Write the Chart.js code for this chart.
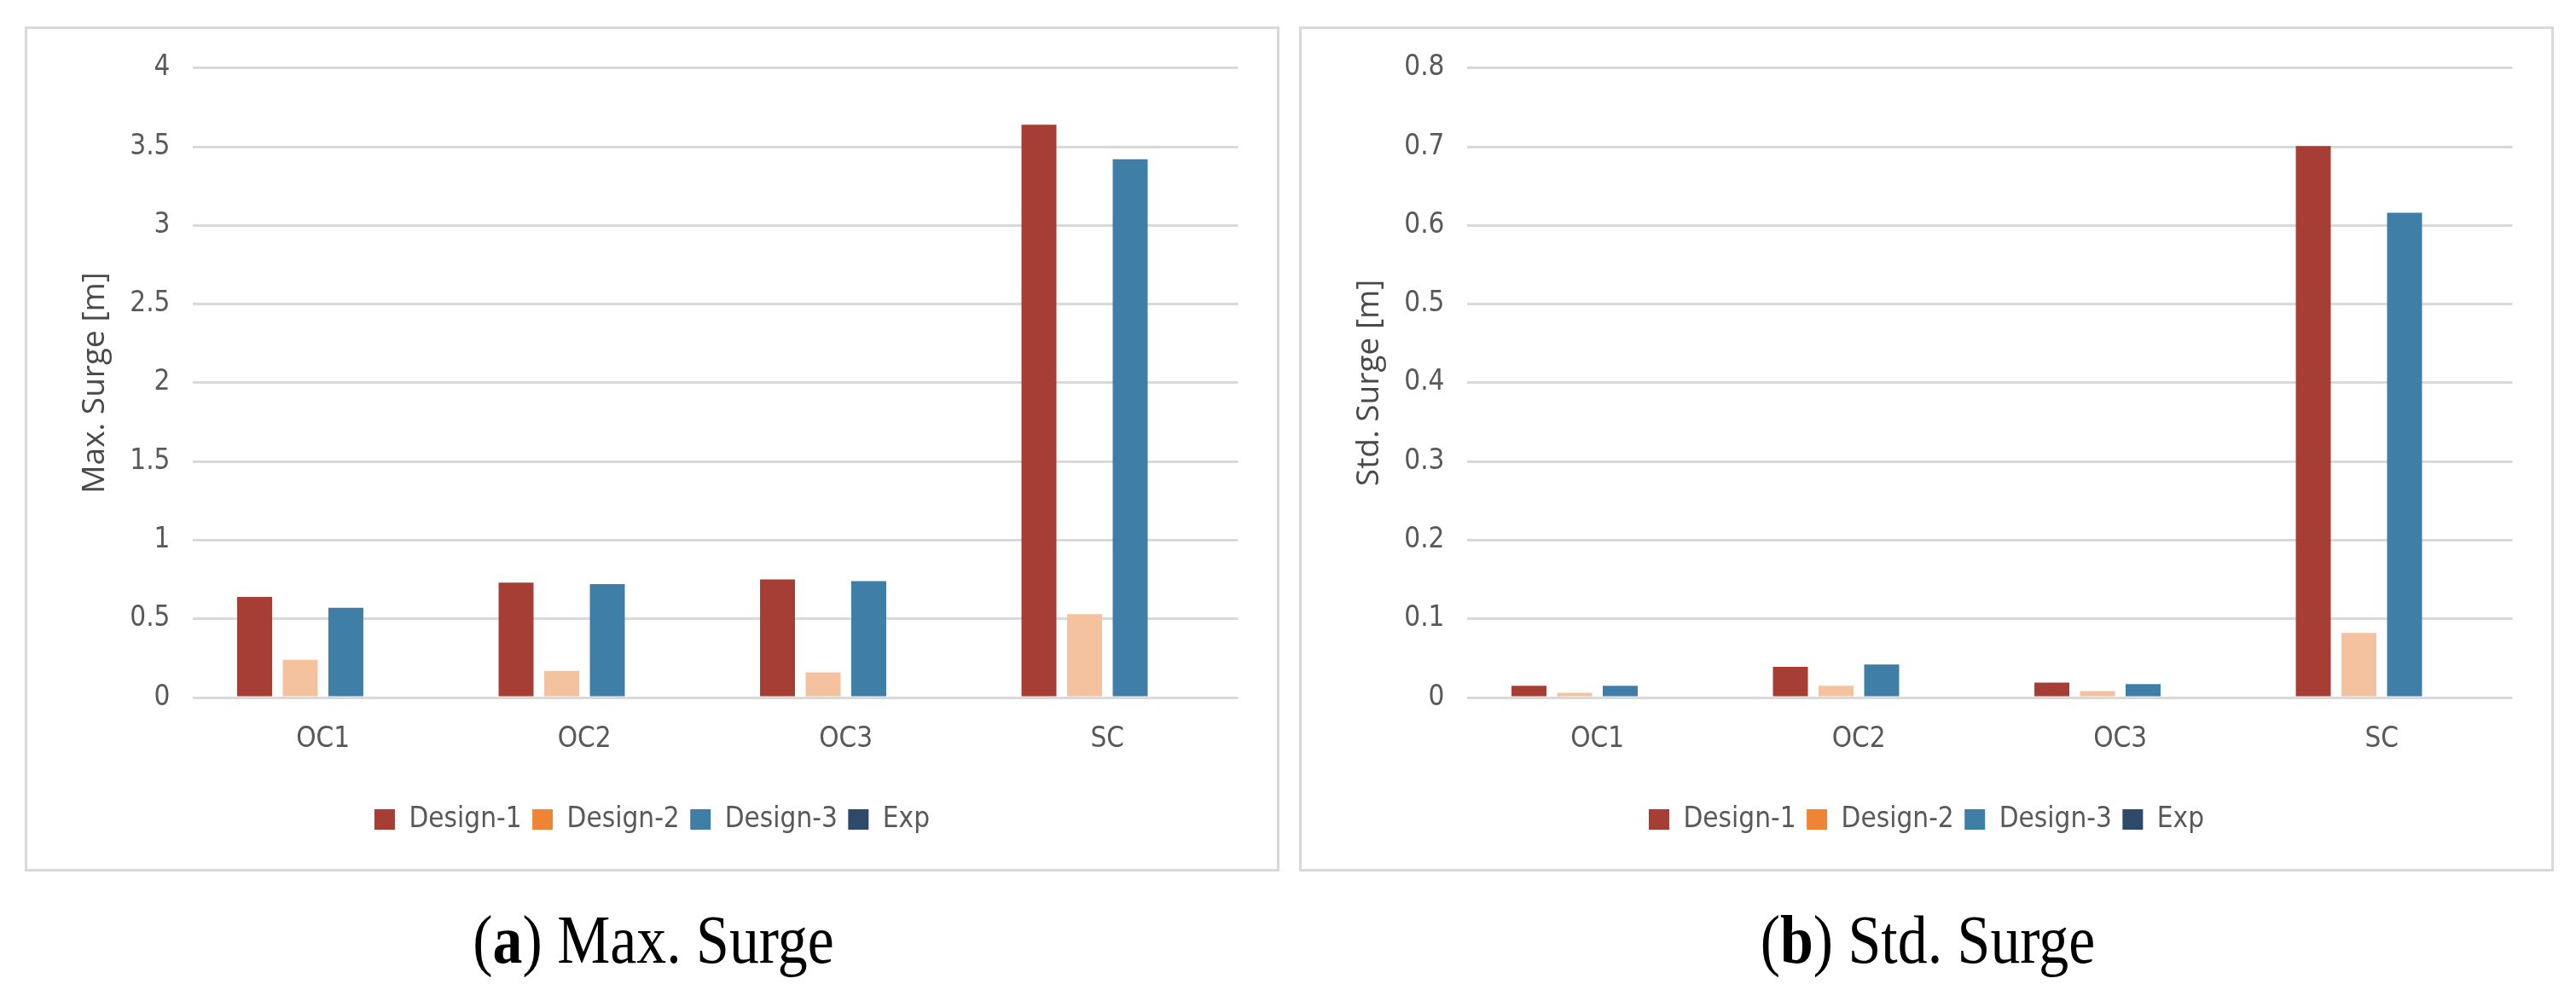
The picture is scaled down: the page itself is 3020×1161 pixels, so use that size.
<!DOCTYPE html>
<html>
<head>
<meta charset="utf-8">
<script src="https://cdn.jsdelivr.net/npm/chart.js@4"></script>
<style>
  html, body { margin: 0; padding: 0; background: #ffffff; }
  body { width: 3020px; height: 1161px; position: relative; overflow: hidden; }
  .frame { position: absolute; top: 31px; width: 1471px; height: 991px; border: 3px solid #d9d9d9; box-sizing: border-box; background: #fff; }
  .frame canvas { position: absolute; left: 0; top: 0; }
  .cap { position: absolute; top: 1062px; font-family: "Liberation Serif", "Times New Roman", serif; font-size: 80px; line-height: 80px; color: #000; white-space: nowrap; transform: translateX(-50%) scaleX(0.873); transform-origin: center; }
</style>
</head>
<body>
<div class="frame" style="left:29px"><canvas id="c1" width="1465" height="985"></canvas></div>
<div class="frame" style="left:1523px"><canvas id="c2" width="1465" height="985"></canvas></div>
<div class="cap" style="left:766px">(<b>a</b>) Max. Surge</div>
<div class="cap" style="left:2260px">(<b>b</b>) Std. Surge</div>
<script>
// ---- data ----
const categories = ['OC1', 'OC2', 'OC3', 'SC'];
const seriesNames = ['Design-1', 'Design-2', 'Design-3', 'Exp'];

const maxDesign1 = [0.64, 0.73, 0.75, 3.64];
const maxDesign2 = [0.24, 0.17, 0.16, 0.53];
const maxDesign3 = [0.57, 0.72, 0.74, 3.42];
const maxExp = [null, null, null, null];

const stdDesign1 = [0.015, 0.039, 0.019, 0.701];
const stdDesign2 = [0.006, 0.015, 0.008, 0.082];
const stdDesign3 = [0.015, 0.042, 0.017, 0.616];
const stdExp = [null, null, null, null];

const maxTickLabels = ['0', '0.5', '1', '1.5', '2', '2.5', '3', '3.5', '4'];
const stdTickLabels = ['0', '0.1', '0.2', '0.3', '0.4', '0.5', '0.6', '0.7', '0.8'];

// ---- styles ----
const barColors = ['#A63E36', '#F4C29E', '#3F7FA7', '#2E4A6B'];
const legendColors = ['#A63E36', '#EE8434', '#3F7FA7', '#2E4A6B'];
const textColor = '#595959';
const gridColor = '#d9d9d9';
const narrow = '"Liberation Sans Narrow", "DejaVu Sans Condensed", "Liberation Sans", sans-serif';

Chart.defaults.font.family = narrow;
Chart.defaults.color = textColor;

function makeChart(id, seriesArrays, tickLabels, yMax, step, title) {
  const datasets = seriesArrays.map((arr, i) => ({
    label: seriesNames[i],
    data: arr,
    backgroundColor: barColors[i],
    borderWidth: 0,
    categoryPercentage: 0.698,
    barPercentage: 0.766
  }));
  return new Chart(document.getElementById(id), {
    type: 'bar',
    data: { labels: categories, datasets },
    options: {
      responsive: false,
      animation: false,
      devicePixelRatio: 1,
      layout: { padding: { top: 44, bottom: 31.5, left: 0, right: 0 } },
      plugins: {
        tooltip: { enabled: false },
        legend: {
          position: 'bottom',
          labels: {
            font: { size: 33, family: narrow },
            color: textColor,
            boxWidth: 24,
            boxHeight: 24,
            padding: 12.5,
            generateLabels(chart) {
              const items = Chart.defaults.plugins.legend.labels.generateLabels(chart);
              items.forEach((it, i) => { it.fillStyle = legendColors[i]; it.strokeStyle = legendColors[i]; it.lineWidth = 0; it.hidden = false; });
              return items;
            }
          }
        }
      },
      scales: {
        x: {
          grid: { display: false, drawTicks: false },
          border: { display: false },
          ticks: { font: { size: 33, family: narrow }, color: textColor, padding: 30 },
          afterFit(s) { s.height = 114; }
        },
        y: {
          min: 0, max: yMax,
          ticks: {
            stepSize: step,
            font: { size: 33, family: narrow },
            color: textColor,
            padding: 26,
            callback(v, i) { return tickLabels[i]; }
          },
          grid: { color: gridColor, lineWidth: 3, drawTicks: false },
          border: { display: false },
          title: {
            display: true, text: title, color: '#4a4a4a',
            font: { size: 37, family: '"Open Sans", "Noto Sans", sans-serif' },
            padding: { top: 57, bottom: 0 }
          },
          afterFit(s) { s.width = 193.5; }
        },
        yR: {
          position: 'right',
          display: true,
          ticks: { display: false },
          grid: { display: false, drawTicks: false },
          border: { display: false },
          afterFit(s) { s.width = 45.5; }
        }
      }
    }
  });
}

makeChart('c1', [maxDesign1, maxDesign2, maxDesign3, maxExp], maxTickLabels, 4, 0.5, 'Max. Surge [m]');
makeChart('c2', [stdDesign1, stdDesign2, stdDesign3, stdExp], stdTickLabels, 0.8, 0.1, 'Std. Surge [m]');
</script>
</body>
</html>
